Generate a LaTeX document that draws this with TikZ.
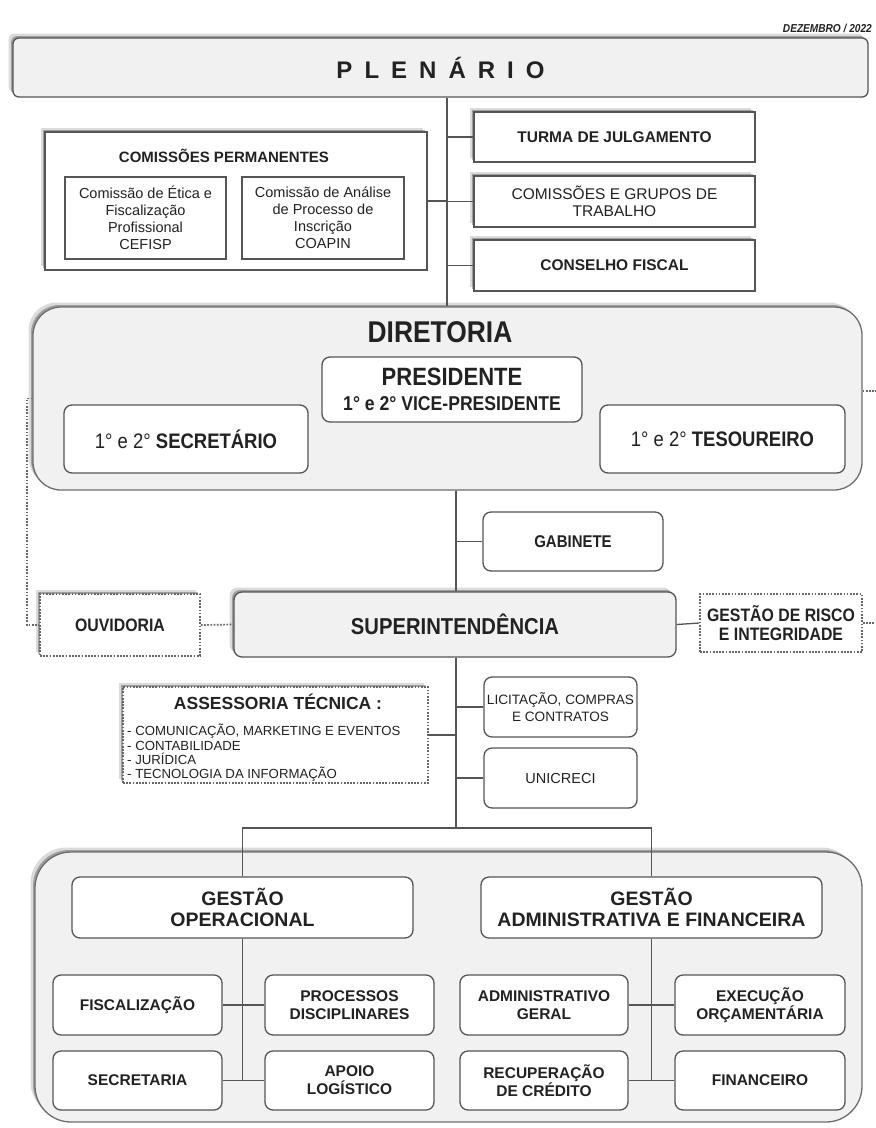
\documentclass[tikz,border=0pt]{standalone}
\usepackage{fontspec}
\setmainfont{Liberation Sans}
\newfontfamily\condf[FakeStretch=0.88]{Liberation Sans}
\usetikzlibrary{shadows}
\newcommand{\setfs}[2]{\fontsize{#1}{#2}\selectfont}
\definecolor{ink}{HTML}{222222}
\definecolor{edgec}{HTML}{555555}
\definecolor{panel}{HTML}{F1F1F1}
\definecolor{dotc}{HTML}{666666}
\begin{document}
\begin{tikzpicture}[x=1pt,y=-1pt,
  softshadow/.style={drop shadow={shadow xshift=-2pt,shadow yshift=2pt,opacity=0.28,fill=black},
                     drop shadow={shadow xshift=-4.5pt,shadow yshift=4.5pt,opacity=0.14,fill=black}},
  sqbox/.style={draw=edgec,line width=1.3pt,fill=white,text=ink,align=center,inner sep=2pt},
  rbox/.style={sqbox,rounded corners=8pt},
  bigpanel/.style={draw=edgec!85,line width=1.3pt,fill=panel,rounded corners=28pt},
  dotbox/.style={draw=dotc,line width=1.7pt,dash pattern=on 1.7pt off 1.5pt,fill=white,text=ink,align=center,inner sep=2pt},
  link/.style={draw=edgec,line width=1.3pt},
  dotlink/.style={draw=dotc,line width=1.7pt,dash pattern=on 1.7pt off 1.5pt},
  lbl/.style={text=ink,inner sep=0pt,align=center},
]
\fill[white] (0,0) rectangle (876,1128);
\useasboundingbox (0,0) rectangle (876,1128);

% date
\node[lbl,anchor=east,font={\condf\bfseries\itshape\setfs{11.5}{12}}] (date) at (872,28) {DEZEMBRO / 2022};

% plenario
\node[sqbox,rounded corners=6pt,fill=panel,minimum width=855pt,minimum height=59pt,softshadow,
      font={\bfseries\setfs{24}{24}}] (plen) at (440.5,67.5)
  {P\hspace{12pt}L\hspace{12pt}E\hspace{12pt}N\hspace{12pt}Á\hspace{12pt}R\hspace{12pt}I\hspace{12pt}O};

% comissoes permanentes
\node[sqbox,minimum width=382pt,minimum height=138pt,softshadow] (cp) at (236,201) {};
\node[lbl,font={\bfseries\setfs{15}{16}}] (cptitle) at (224,156) {COMISSÕES PERMANENTES};
\node[sqbox,minimum width=161pt,minimum height=82pt,font={\setfs{14.5}{17}}] (cef) at (145.5,218)
  {Comissão de Ética e\\Fiscalização\\Profissional\\CEFISP};
\node[sqbox,minimum width=162pt,minimum height=82pt,font={\setfs{14.5}{17}}] (coa) at (323,218)
  {Comissão de Análise\\de Processo de\\Inscrição\\COAPIN};

% right boxes
\node[sqbox,minimum width=281pt,minimum height=50pt,softshadow,font={\bfseries\setfs{15.5}{17}}] (turma) at (614.5,137) {TURMA DE JULGAMENTO};
\node[sqbox,minimum width=281pt,minimum height=51pt,softshadow,font={\setfs{15.5}{17}}] (grupos) at (614.5,201.5) {COMISSÕES E GRUPOS DE\\TRABALHO};
\node[sqbox,minimum width=281pt,minimum height=51pt,softshadow,font={\bfseries\setfs{15.5}{17}}] (cfis) at (614.5,265.5) {CONSELHO FISCAL};

% diretoria
\node[bigpanel,minimum width=829pt,minimum height=183pt,softshadow] (dir) at (447.5,398.5) {};
\node[lbl,font={\condf\bfseries\setfs{30}{30}}] (dirtitle) at (440,332) {DIRETORIA};
\node[rbox,minimum width=260pt,minimum height=65pt,font={\condf\bfseries\setfs{20}{25}}] (pres) at (452,389.5)
  {{\setfs{25}{25}PRESIDENTE}\\1° e 2° VICE-PRESIDENTE};
\node[rbox,minimum width=244pt,minimum height=68pt,font={\condf\setfs{21}{22}}] (sec) at (186,439) {1° e 2° \textbf{SECRETÁRIO}};
\node[rbox,minimum width=245pt,minimum height=68pt,font={\condf\setfs{21}{22}}] (tes) at (722.5,439) {1° e 2° \textbf{TESOUREIRO}};

% middle
\node[rbox,minimum width=180pt,minimum height=59pt,font={\condf\bfseries\setfs{17}{18}}] (gab) at (573,541.5) {GABINETE};
\node[rbox,fill=panel,minimum width=442pt,minimum height=65pt,softshadow,font={\condf\bfseries\setfs{23}{24}}] (sup) at (455,624.5) {SUPERINTENDÊNCIA};
\node[dotbox,minimum width=160pt,minimum height=62pt,softshadow,font={\condf\bfseries\setfs{18}{19}}] (ouv) at (120,625) {OUVIDORIA};
\node[dotbox,minimum width=162pt,minimum height=58pt,font={\condf\bfseries\setfs{18}{19}}] (risk) at (781,623) {GESTÃO DE RISCO\\E INTEGRIDADE};

% assessoria
\node[dotbox,minimum width=305pt,minimum height=96pt,softshadow] (ass) at (275.5,735) {};
\node[lbl,font={\bfseries\setfs{17.5}{18}}] (asstitle) at (278,702) {ASSESSORIA TÉCNICA :};
\node[lbl,align=left,anchor=north west,font={\setfs{13.2}{14.4}}] (asslist) at (127,724)
  {- COMUNICAÇÃO, MARKETING E EVENTOS\\- CONTABILIDADE\\- JURÍDICA\\- TECNOLOGIA DA INFORMAÇÃO};

\node[rbox,minimum width=153pt,minimum height=60pt,font={\setfs{13.6}{17}}] (lic) at (560.5,707) {LICITAÇÃO, COMPRAS\\E CONTRATOS};
\node[rbox,minimum width=153pt,minimum height=60pt,font={\setfs{14.5}{16}}] (uni) at (560.5,778) {UNICRECI};

% bottom panel
\node[bigpanel,rounded corners=36pt,minimum width=827pt,minimum height=270pt,softshadow] (bot) at (448.5,987) {};
\node[rbox,minimum width=341pt,minimum height=61pt,font={\bfseries\setfs{19.5}{21}}] (gop) at (242.5,907.5) {GESTÃO\\OPERACIONAL};
\node[rbox,minimum width=341pt,minimum height=61pt,font={\bfseries\setfs{19.5}{21}}] (gadm) at (651.5,907.5) {GESTÃO\\ADMINISTRATIVA E FINANCEIRA};

\tikzset{small/.style={rbox,minimum width=169pt,minimum height=60pt,font={\bfseries\setfs{15.5}{18}}}}
\node[small] (fisc) at (137.5,1005) {FISCALIZAÇÃO};
\node[small] (proc) at (349.5,1005) {PROCESSOS\\DISCIPLINARES};
\node[small,minimum height=59pt] (secr) at (137.5,1080.5) {SECRETARIA};
\node[small,minimum height=59pt] (apoio) at (349.5,1080.5) {APOIO\\LOGÍSTICO};
\node[small,minimum width=168pt] (admg) at (544,1005) {ADMINISTRATIVO\\GERAL};
\node[small,minimum width=170pt] (exec) at (760,1005) {EXECUÇÃO\\ORÇAMENTÁRIA};
\node[small,minimum width=168pt,minimum height=59pt] (recup) at (544,1080.5) {RECUPERAÇÃO\\DE CRÉDITO};
\node[small,minimum width=170pt,minimum height=59pt] (fin) at (760,1080.5) {FINANCEIRO};

% connectors
\coordinate (trunkA) at (447,0);
\coordinate (trunkB) at (456,0);
\coordinate (bar) at (456,828);
\coordinate (dl) at (27,0);
\coordinate (dr) at (876,391);
\coordinate (dr2) at (876,0);

\draw[link] (plen.south -| trunkA) -- (dir.north -| trunkA);
\draw[link] (turma.west) -- (turma.west -| trunkA);
\draw[link] (grupos.west) -- (grupos.west -| trunkA);
\draw[link] (cfis.west) -- (cfis.west -| trunkA);
\draw[link] (cp.east) -- (cp.east -| trunkA);

\draw[link] (dir.south -| trunkB) -- (sup.north -| trunkB);
\draw[link] (gab.west) -- (gab.west -| trunkB);
\draw[link] (sup.south -| trunkB) -- (bar);
\draw[link] (lic.west) -- (lic.west -| trunkB);
\draw[link] (uni.west) -- (uni.west -| trunkB);
\draw[link] (ass.east) -- (ass.east -| trunkB);
\draw[link] (gop.north) -- (gop.north |- bar) -- (gadm.north |- bar) -- (gadm.north);

\draw[link] (gop.south) -- (gop.south |- secr.east);
\draw[link] (fisc.east) -- (proc.west);
\draw[link] (secr.east) -- (apoio.west);
\draw[link] (gadm.south) -- (gadm.south |- recup.east);
\draw[link] (admg.east) -- (exec.west);
\draw[link] (recup.east) -- (fin.west);

\draw[dotlink] (dir.west) -- (dir.west -| dl) -- (dl |- ouv.west) -- (ouv.west);
\draw[dotlink] (ouv.east) -- (sup.west);
\draw[link] (sup.east) -- (risk.west);
\draw[dotlink] (dir.east |- dr) -- (dr);
\draw[dotlink] (risk.east) -- (risk.east -| dr2);
\end{tikzpicture}
\end{document}
